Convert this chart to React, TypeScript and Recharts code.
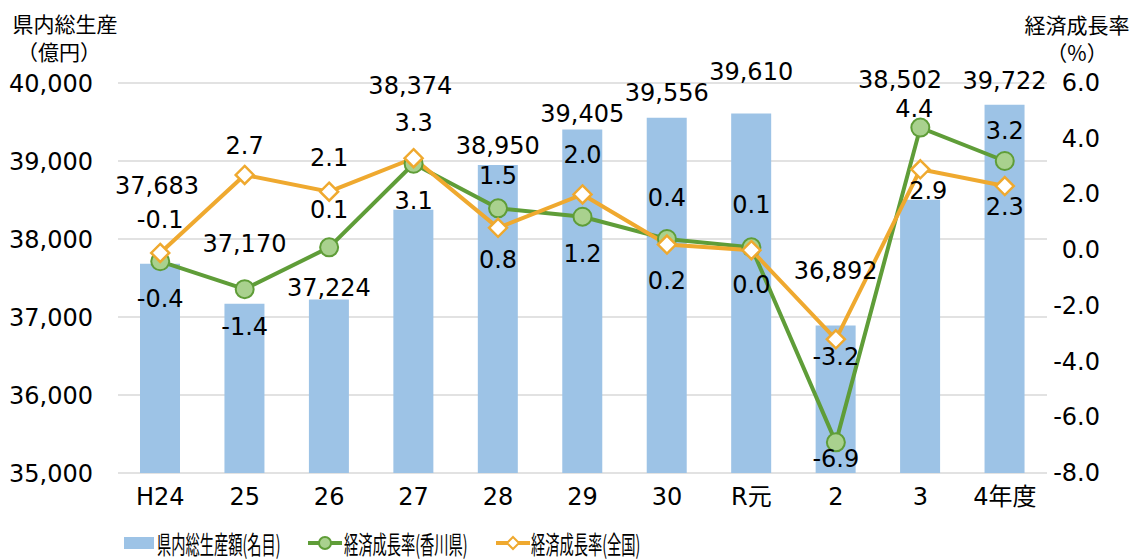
import { Bar, CartesianGrid, ComposedChart, LabelList, Legend, Line, XAxis, YAxis } from "recharts";

const categories = ["H24", "25", "26", "27", "28", "29", "30", "R元", "2", "3", "4年度"];
const gdp = [37683, 37170, 37224, 38374, 38950, 39405, 39556, 39610, 36892, 38502, 39722];
const kagawaRate = [-0.4, -1.4, 0.1, 3.1, 1.5, 1.2, 0.4, 0.1, -6.9, 4.4, 3.2];
const nationalRate = [-0.1, 2.7, 2.1, 3.3, 0.8, 2.0, 0.2, 0.0, -3.2, 2.9, 2.3];
const leftTicks = [35000, 36000, 37000, 38000, 39000, 40000];
const rightTicks = [-8, -6, -4, -2, 0, 2, 4, 6];

// label nudges relative to each mark (the original places them by hand)
const gdpLabelDy = [-78, -60, -12, -124, -19, -15, -25, -41, -54, -120, -24];
const gdpLabelDx = [-3, 0, 0, -3, 0, 0, 0, 0, 0, -20, 0];
const kagawaLabelDy = [38, 38, -37, 37, -32, 37, -41, -42, 17, -19, -30];
const kagawaLabelDx = [0, 0, 0, 0, 0, 0, 0, 0, 0, -6, 0];
const nationalLabelDy = [-33, -29, -34, -35, 32, -39, 36, 35, 18, 22, 21];
const nationalLabelDx = [0, 0, 0, 0, 0, 0, 0, 0, 0, 8, 0];

const data = categories.map((name, i) => ({
  name,
  gdp: gdp[i],
  kagawa: kagawaRate[i],
  national: nationalRate[i],
}));

const BLUE = "#9DC3E6";
const GREEN = "#5F9D38";
const GREEN_FILL = "#A9D18E";
const ORANGE = "#EFA92F";
const FONT = "'DejaVu Sans', 'Noto Sans CJK JP', sans-serif";
const JP = "'Noto Sans CJK JP', sans-serif";

const fmt = new Intl.NumberFormat("en-US");

function GdpLabel(props: any) {
  const { x, y, width, value, index } = props;
  return (
    <text x={x + width / 2 + gdpLabelDx[index]} y={y + gdpLabelDy[index]} textAnchor="middle" dominantBaseline="central" fontSize={24} fontFamily={FONT} fill="#000">
      {fmt.format(value)}
    </text>
  );
}

function rateLabel(dy: number[], dx: number[]) {
  return (props: any) => {
    const { x, y, value, index } = props;
    return (
      <text x={x + dx[index]} y={y + dy[index]} textAnchor="middle" dominantBaseline="central" fontSize={24} fontFamily={FONT} fill="#000">
        {Number(value).toFixed(1)}
      </text>
    );
  };
}

function Diamond(props: any) {
  const { cx, cy } = props;
  if (cx == null || cy == null) return null;
  const s = 9;
  return <path d={`M${cx},${cy - s}L${cx + s},${cy}L${cx},${cy + s}L${cx - s},${cy}Z`} fill="#fff" stroke={ORANGE} strokeWidth={2.5} />;
}

function RightTick(props: any) {
  const { y, payload } = props;
  return (
    <text x={1100} y={y} textAnchor="end" dominantBaseline="central" fontSize={24} fontFamily={FONT} fill="#000">
      {Number(payload.value).toFixed(1)}
    </text>
  );
}

function LegendContent() {
  const textStyle: React.CSSProperties = {
    position: "absolute",
    top: 10,
    fontSize: 25,
    lineHeight: "28px",
    fontFamily: JP,
    whiteSpace: "nowrap",
    transform: "scaleX(0.57)",
    transformOrigin: "left center",
    color: "#000",
  };
  return (
    <div style={{ position: "relative", width: 1133, height: 40 }}>
      <div style={{ position: "absolute", left: 124, top: 18, width: 30, height: 12, background: BLUE }} />
      <div style={{ ...textStyle, left: 157 }}>県内総生産額(名目)</div>
      <svg style={{ position: "absolute", left: 307, top: 13 }} width={36} height={22}>
        <line x1={1} y1={11} x2={35} y2={11} stroke={GREEN} strokeWidth={4} />
        <circle cx={18} cy={11} r={6} fill={GREEN_FILL} stroke={GREEN} strokeWidth={2} />
      </svg>
      <div style={{ ...textStyle, left: 344 }}>経済成長率(香川県)</div>
      <svg style={{ position: "absolute", left: 495, top: 13 }} width={36} height={22}>
        <line x1={1} y1={11} x2={35} y2={11} stroke={ORANGE} strokeWidth={4} />
        <path d="M18,5L24,11L18,17L12,11Z" fill="#fff" stroke={ORANGE} strokeWidth={2} />
      </svg>
      <div style={{ ...textStyle, left: 531 }}>経済成長率(全国)</div>
    </div>
  );
}

export default function App() {
  return (
    <div style={{ position: "absolute", left: 0, top: 0, width: 1133, height: 559, background: "#fff" }}>
      <div style={{ position: "absolute", left: 12, top: 9, fontSize: 21, lineHeight: "28px", fontFamily: JP, textAlign: "center", width: 106 }}>
        <div>県内総生産</div>
        <div style={{ marginLeft: -12 }}>（億円）</div>
      </div>
      <div style={{ position: "absolute", left: 1024, top: 10, fontSize: 21, lineHeight: "28px", fontFamily: JP, textAlign: "center", width: 106 }}>
        <div>経済成長率</div>
        <div>（%）</div>
      </div>
      <ComposedChart width={1133} height={559} data={data} margin={{ top: 83, right: 0, bottom: 0, left: 0 }}>
        <CartesianGrid yAxisId="left" vertical={false} stroke="#D9D9D9" strokeWidth={1.5} />
        <XAxis
          dataKey="name"
          axisLine={false}
          tickLine={false}
          height={46}
          tickMargin={9}
          tick={{ fontSize: 24, fontFamily: FONT, fill: "#000" }}
          interval={0}
        />
        <YAxis
          yAxisId="left"
          domain={[35000, 40000]}
          ticks={leftTicks}
          width={118}
          axisLine={false}
          tickLine={false}
          tickMargin={19}
          tickFormatter={(v) => fmt.format(Number(v))}
          tick={{ fontSize: 24, fontFamily: FONT, fill: "#000" }}
        />
        <YAxis
          yAxisId="right"
          orientation="right"
          domain={[-8, 6]}
          ticks={rightTicks}
          width={86}
          axisLine={false}
          tickLine={false}
          tick={<RightTick />}
        />
        <Legend verticalAlign="bottom" height={40} content={<LegendContent />} wrapperStyle={{ left: 0, width: 1133 }} />
        <Bar yAxisId="left" dataKey="gdp" name="県内総生産額(名目)" fill={BLUE} barSize={40} isAnimationActive={false}>
          <LabelList dataKey="gdp" content={<GdpLabel />} />
        </Bar>
        <Line
          yAxisId="right"
          dataKey="kagawa"
          name="経済成長率(香川県)"
          stroke={GREEN}
          strokeWidth={4}
          dot={{ r: 9, fill: GREEN_FILL, stroke: GREEN, strokeWidth: 2 }}
          isAnimationActive={false}
        >
          <LabelList dataKey="kagawa" content={rateLabel(kagawaLabelDy, kagawaLabelDx)} />
        </Line>
        <Line
          yAxisId="right"
          dataKey="national"
          name="経済成長率(全国)"
          stroke={ORANGE}
          strokeWidth={4}
          dot={<Diamond />}
          isAnimationActive={false}
        >
          <LabelList dataKey="national" content={rateLabel(nationalLabelDy, nationalLabelDx)} />
        </Line>
      </ComposedChart>
    </div>
  );
}
